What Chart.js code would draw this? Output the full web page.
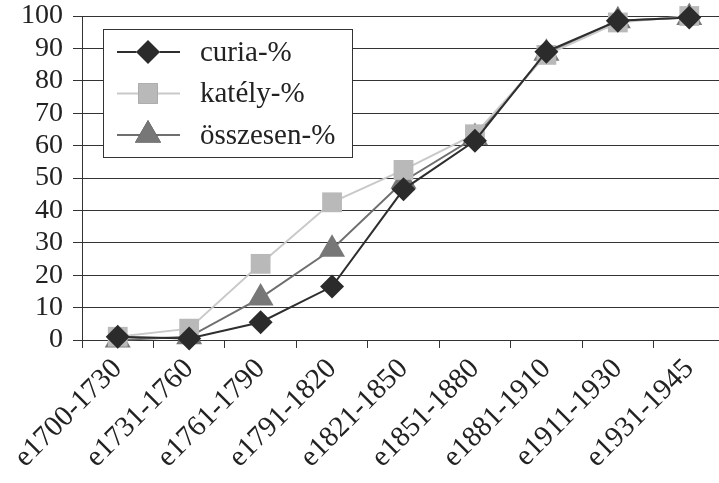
<!DOCTYPE html>
<html>
<head>
<meta charset="utf-8">
<script src="https://cdn.jsdelivr.net/npm/chart.js@4.4.0/dist/chart.umd.min.js"></script>
<style>
    html, body { margin: 0; padding: 0; background: #fff; overflow: hidden; }
    #wrap { width: 719px; height: 483px; overflow: hidden; }
</style>
</head>
<body>
<div id="wrap"><canvas id="grafica" width="740" height="483"></canvas></div>
<script>
const categories = ['e1700-1730', 'e1731-1760', 'e1761-1790', 'e1791-1820', 'e1821-1850',
    'e1851-1880', 'e1881-1910', 'e1911-1930', 'e1931-1945'];
const curia = [1, 0.5, 5.5, 16.5, 46.5, 61.5, 89, 98.5, 99.5];
const kately = [1, 3.5, 23.5, 42.5, 52.5, 63.5, 88, 98, 100];
const osszesen = [0, 1, 13, 28, 49, 62.5, 88.5, 98.5, 99.5];

const serif = '"Liberation Serif", "DejaVu Serif", serif';

// legend drawn inside the plot, like the original
const innerLegend = {
    id: 'innerLegend',
    afterDraw(chart) {
        const ctx = chart.ctx;
        const x0 = 103, y0 = 29, w = 249, h = 128;
        ctx.save();
        ctx.fillStyle = '#fff';
        ctx.fillRect(x0, y0, w, h);
        ctx.strokeStyle = '#333';
        ctx.lineWidth = 1;
        ctx.strokeRect(x0 + 0.5, y0 + 0.5, w, h);
        chart.data.datasets.forEach((ds, i) => {
            const y = 52 + i * 41.5;
            ctx.strokeStyle = ds.borderColor;
            ctx.lineWidth = ds.borderWidth;
            ctx.beginPath();
            ctx.moveTo(117, y);
            ctx.lineTo(180, y);
            ctx.stroke();
            Chart.helpers.drawPoint(ctx, {
                pointStyle: ds.pointStyle,
                radius: ds.pointRadius,
                rotation: 0,
                borderWidth: 0
            }, 148, y);
            ctx.fillStyle = ds.pointBackgroundColor;
            ctx.fill();
            ctx.fillStyle = '#222';
            ctx.font = '29px ' + serif;
            ctx.textBaseline = 'middle';
            ctx.textAlign = 'left';
            ctx.fillText(ds.label, 200, y + 1);
        });
        ctx.restore();
    }
};

function drawChart() {
    const canvas = document.getElementById('grafica');
    new Chart(canvas, {
        type: 'line',
        data: {
            labels: categories,
            datasets: [
                {
                    label: 'curia-%',
                    data: curia,
                    borderColor: '#2e2e2e',
                    borderWidth: 2,
                    pointStyle: 'rectRot',
                    pointRadius: 12,
                    pointBackgroundColor: '#2b2b2b',
                    pointBorderWidth: 0,
                    tension: 0
                },
                {
                    label: 'katély-%',
                    data: kately,
                    borderColor: '#c9c9c9',
                    borderWidth: 2,
                    pointStyle: 'rect',
                    pointRadius: 14,
                    pointBackgroundColor: '#b9b9b9',
                    pointBorderWidth: 0,
                    tension: 0
                },
                {
                    label: 'összesen-%',
                    data: osszesen,
                    borderColor: '#6f6f6f',
                    borderWidth: 2,
                    pointStyle: 'triangle',
                    pointRadius: 15,
                    pointBackgroundColor: '#777777',
                    pointBorderWidth: 0,
                    tension: 0
                }
            ]
        },
        options: {
            responsive: false,
            animation: false,
            clip: false,
            layout: { padding: { top: 16, right: 0, left: 0, bottom: 0 } },
            plugins: {
                legend: { display: false },
                tooltip: { enabled: false }
            },
            scales: {
                x: {
                    offset: true,
                    grid: { display: true, drawOnChartArea: false, offset: true, color: '#333', tickLength: 8 },
                    border: { color: '#333', width: 1 },
                    ticks: {
                        color: '#222',
                        font: { family: serif, size: 29 },
                        minRotation: 45,
                        maxRotation: 45,
                        autoSkip: false,
                        padding: 4
                    },
                    afterFit(scale) {
                        scale.height = 143;
                        scale.paddingLeft = 0;
                        scale.paddingRight = 0;
                    }
                },
                y: {
                    min: 0,
                    max: 100,
                    grid: { color: '#333', lineWidth: 1, tickLength: 9 },
                    border: { color: '#333', width: 1 },
                    ticks: {
                        color: '#222',
                        font: { family: serif, size: 28 },
                        stepSize: 10,
                        autoSkip: false,
                        padding: 10
                    },
                    afterFit(scale) {
                        scale.width = 82;
                        scale.paddingTop = 0;
                        scale.paddingBottom = 0;
                    }
                }
            }
        },
        plugins: [innerLegend]
    });
}

document.fonts.load('28px "Liberation Serif"').then(drawChart, drawChart);
</script>
</body>
</html>
